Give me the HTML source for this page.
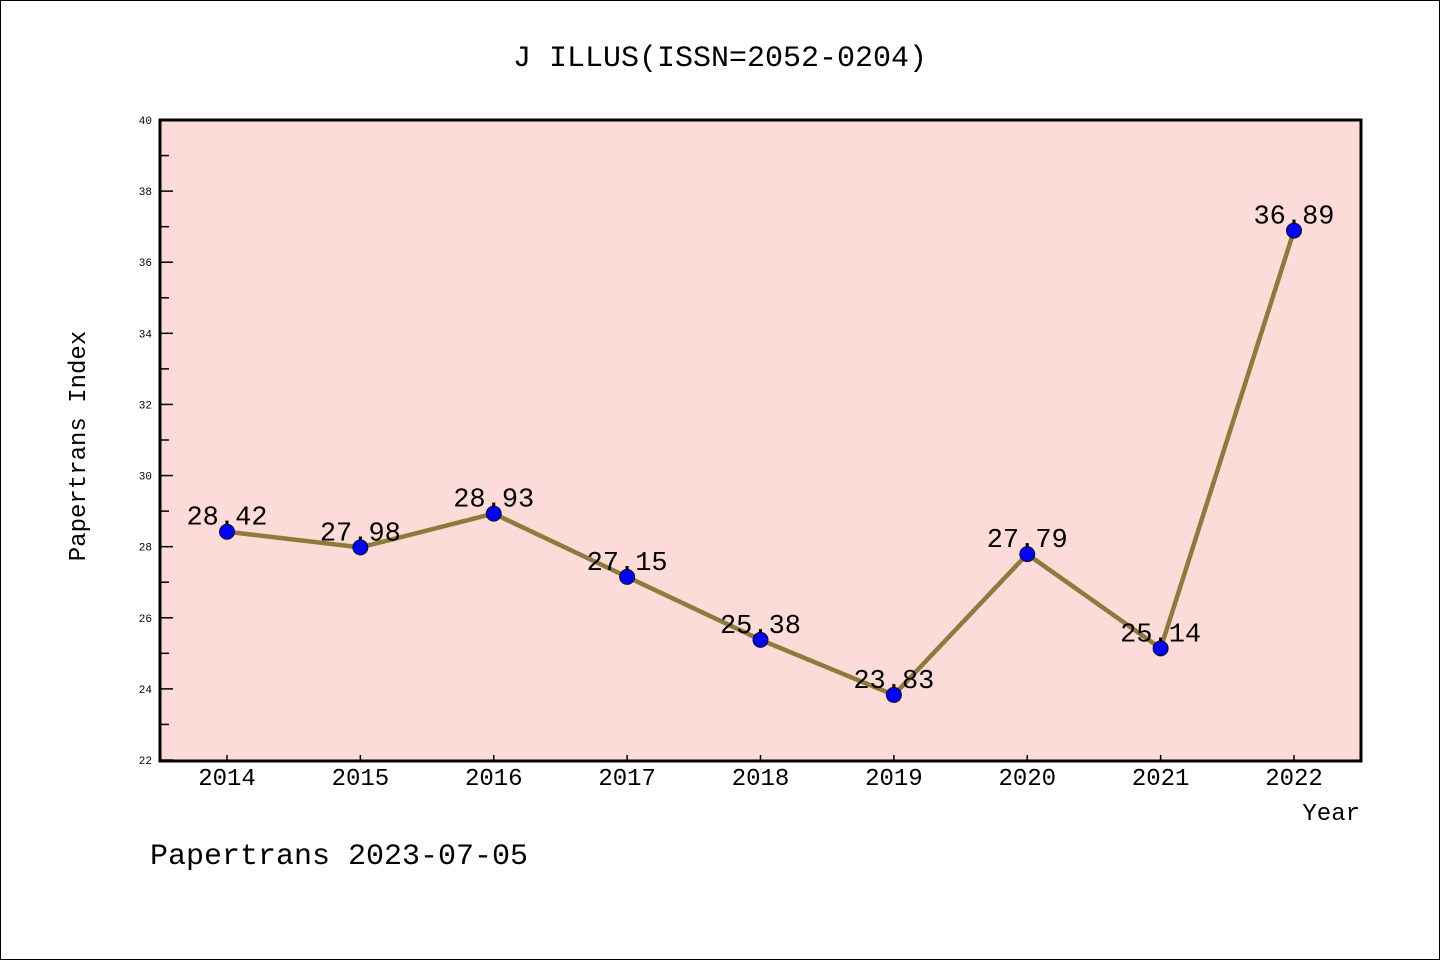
<!DOCTYPE html>
<html><head><meta charset="utf-8"><style>
body{margin:0;background:#fff}
svg{display:block}
text{font-family:"Liberation Mono","WenQuanYi Zen Hei",monospace;fill:#000}
</style></head><body>
<svg width="1440" height="960">
<rect x="0.5" y="0.5" width="1439" height="959" fill="#fff" stroke="#000"/>
<text x="720" y="66" font-size="30" text-anchor="middle">J ILLUS(ISSN=2052-0204)</text>
<rect x="160" y="120" width="1201" height="641" fill="#fddbd8"/>
<g id="axes"></g>
<g id="series"></g>
<rect x="160" y="120" width="1201" height="641" fill="none" stroke="#000" stroke-width="3"/>
<text transform="translate(85,446) rotate(-90)" font-size="24" text-anchor="middle">Papertrans Index</text>
<text x="1360" y="820" font-size="24" text-anchor="end">Year</text>
<text x="150" y="864" font-size="30">Papertrans 2023-07-05</text>
</svg>
<script>
const years=["2014","2015","2016","2017","2018","2019","2020","2021","2022"];
const values=[28.42,27.98,28.93,27.15,25.38,23.83,27.79,25.14,36.89];
const yTicks=[22,24,26,28,30,32,34,36,38,40];
const NS="http://www.w3.org/2000/svg";
const X0=227,XS=133.375,YMIN=22,YMAX=40,PY0=760,PY1=120;
const xs=i=>X0+i*XS;
const ys=v=>PY0-(v-YMIN)/(YMAX-YMIN)*(PY0-PY1);
function mk(t,a,p){const e=document.createElementNS(NS,t);for(const k in a)e.setAttribute(k,a[k]);p.appendChild(e);return e;}
const ax=document.getElementById('axes'),sr=document.getElementById('series');
yTicks.forEach((v,i)=>{
 const y=ys(v);
 const l=mk('line',{x1:160,x2:173,y1:y,y2:y,stroke:'#000','stroke-width':1.5},ax);
 
 
 const t=mk('text',{x:152,y:y+4,'font-size':11,'text-anchor':'end'},ax);t.textContent=v;
 
 
 if(i<yTicks.length-1){const ym=ys(v+1);
  const m=mk('line',{x1:160,x2:169,y1:ym,y2:ym,stroke:'#000','stroke-width':1.5},ax);
  
  }
});
years.forEach((yr,i)=>{
 const x=xs(i);
 const l=mk('line',{x1:x,x2:x,y1:760,y2:755,stroke:'#000','stroke-width':1.5},ax);
 
 
 const t=mk('text',{x:x,y:785,'font-size':24,'text-anchor':'middle'},ax);t.textContent=yr;
 
 
});
const pl=mk('polyline',{points:values.map((v,i)=>xs(i)+','+ys(v)).join(' '),fill:'none',stroke:'#8e7a3a','stroke-width':4.5,'stroke-linejoin':'round'},sr);


values.forEach((v,i)=>{
 const c=mk('circle',{cx:xs(i),cy:ys(v),r:7.5,fill:'#0000ff',stroke:'#111','stroke-width':1},sr);
 
 
 const t=mk('text',{x:xs(i),y:ys(v)-7,'font-size':27,'text-anchor':'middle'},sr);t.textContent=v.toFixed(2);
 
 
});
</script>
</body></html>
